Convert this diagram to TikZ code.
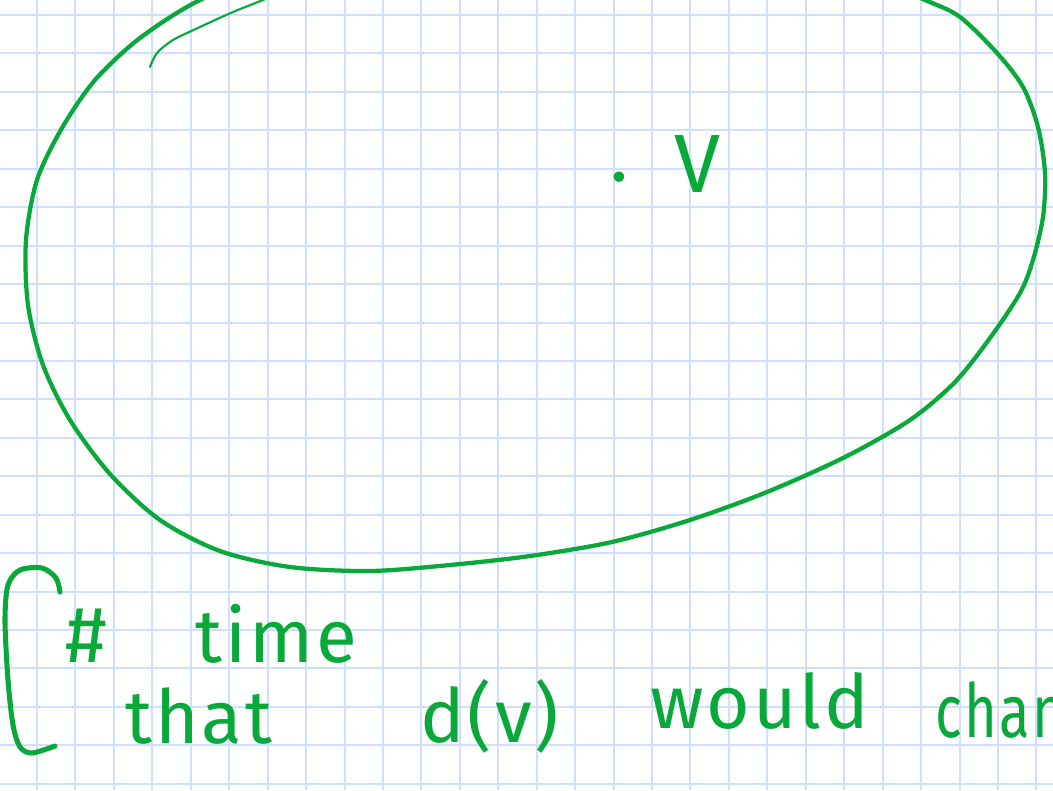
\documentclass[tikz,border=0pt]{standalone}
\usepackage{fontspec}
\usepackage{graphicx}
\newfontfamily\handfont[LetterSpace=4]{Fira Sans}
\definecolor{ink}{RGB}{8,168,58}
\definecolor{gridblue}{RGB}{206,224,255}

\begin{document}
\begin{tikzpicture}[x=0.75pt, y=-0.75pt,
  every node/.style={font=\handfont\fontsize{56}{60}\selectfont, text=ink, inner sep=0pt},
  inkline/.style={draw=ink, line width=3.2pt, line cap=round, line join=round},
  gridline/.style={draw=gridblue, line width=1.5pt}]
	\useasboundingbox (0,0) rectangle (1053,790);
	\fill[white] (0,0) rectangle (1053,790);
	\clip (0,0) rectangle (1053,790);
	\foreach \i in {0,...,26} \draw[gridline] ({37+38.44*\i},0) -- ({37+38.44*\i},790);
	\foreach \j in {0,...,20} \draw[gridline] (0,{15+38.44*\j}) -- (1053,{15+38.44*\j});
	\draw[inkline] plot[smooth cycle] coordinates {(26,240) (37,180) (62,128) (95,80) (140,38) (200,0) (280,-30) (380,-50) (500,-60) (620,-60) (740,-50) (850,-30) (925,0) (960,17) (997,53) (1023,87) (1038,127) (1045,173) (1043,217) (1033,260) (1020,293) (990,338) (955,382) (910,420) (845,457) (767,492) (690,520) (612,542) (530,556) (450,565) (370,571) (290,567) (220,551) (160,520) (110,474) (70,420) (43,365) (28,305)};
	\draw[inkline, line width=1.6pt] plot[smooth] coordinates {(150,67) (157,53) (173,40) (200,27) (233,12) (263,0) (300,-15)};
	\draw[inkline, line width=3.8pt] plot[smooth] coordinates {(60,592) (56,578) (42,568) (20,570) (8,585) (5,620) (8,680) (13,725) (20,747) (32,753) (55,746)};
	\node[anchor=base west] (dot) at (610,181) {.};
	\node[anchor=base west, font=\handfont\fontsize{62}{66}\selectfont] (vname) at (674,192) {V};
	\node[anchor=base west, font=\handfont\fontsize{60}{64}\selectfont] (hash) at (65,662) {\#};
	\node[anchor=base west] (time) at (195,662) {time};
	\node[anchor=base west] (that) at (125,743) {that};
	\node[anchor=base west] (dv) at (420,742) {d(v)};
	\node[anchor=base west] (would) at (650,728) {would};
	\node[anchor=base west] (chan) at (935,737) {\scalebox{0.75}[1]{chan}};
\end{tikzpicture}
\end{document}
